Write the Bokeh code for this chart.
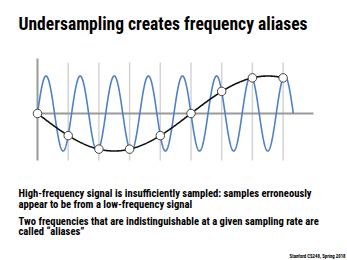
import numpy as np
from bokeh.plotting import figure
from bokeh.models import Range1d, Label
from bokeh.embed import file_html
from bokeh.resources import INLINE

# ---- data ----
sample_times = [0, 1, 2, 3, 4, 5, 6, 7, 8]
sample_values = [0, -0.59, -0.95, -0.95, -0.59, 0, 0.59, 0.95, 0.95]
high_freq = 0.9      # cycles per sample interval (blue signal)
alias_freq = 0.1     # cycles per sample interval (black alias)
high_cycles = 7.5    # blue signal drawn for this many cycles
title_text = "Undersampling creates frequency aliases"
body_lines = [
    "High-frequency signal is insufficiently sampled: samples erroneously",
    "appear to be from a low-frequency signal",
    "Two frequencies that are indistinguishable at a given sampling rate are",
    "called \u201caliases\u201d",
]
footer_text = "Stanford CS248, Spring 2018"

W, H = 347, 260
x0_px, dx_px = 37.0, 30.7
y0_px, amp_px = 113.0, 37.5

p = figure(width=W, height=H, output_backend="svg", toolbar_location=None,
           min_border=0, x_axis_type=None, y_axis_type=None)
p.x_range = Range1d(-x0_px / dx_px, (W - x0_px) / dx_px)
p.y_range = Range1d((y0_px - H) / amp_px, y0_px / amp_px)
p.grid.visible = False
p.outline_line_color = None
p.background_fill_color = "white"
p.border_fill_color = "white"

# grid lines at sample times (except origin)
gt = sample_times[1:]
p.segment(x0=gt, y0=[-1.25] * len(gt), x1=gt, y1=[1.36] * len(gt),
          line_color="#d4d4d4", line_width=1.5)
# axes
p.segment(x0=[0], y0=[-1.25], x1=[0], y1=[1.47], line_color="#9a9a9a", line_width=2)
p.segment(x0=[0], y0=[0], x1=[8.99], y1=[0], line_color="#9a9a9a", line_width=2)

# blue high-frequency signal
t_hi = np.linspace(0, high_cycles / high_freq, 1200)
p.line(t_hi, np.sin(2 * np.pi * high_freq * t_hi), line_color="#4f81c4", line_width=1.6)

# black alias
t_lo = np.linspace(0, sample_times[-1], 400)
p.line(t_lo, -np.sin(2 * np.pi * alias_freq * t_lo), line_color="#111111", line_width=1.6)

# samples
p.scatter(sample_times, sample_values, size=8.5, fill_color="white",
          line_color="#444444", line_width=1)

FONT = "Roboto Condensed"

p.add_layout(Label(x=18, y=H - 23.5, x_units="screen", y_units="screen",
                   text=title_text, text_font=FONT, text_font_style="bold",
                   text_font_size="17.5px", text_color="black",
                   text_baseline="alphabetic"))

for txt, base in zip(body_lines, [193.3, 203.8, 221.0, 231.3]):
    p.add_layout(Label(x=18, y=H - base, x_units="screen", y_units="screen",
                       text=txt, text_font=FONT, text_font_style="bold",
                       text_font_size="10.6px", text_color="black",
                       text_baseline="alphabetic"))

p.add_layout(Label(x=345, y=H - 256, x_units="screen", y_units="screen",
                   text=footer_text, text_font=FONT, text_font_style="bold",
                   text_font_size="4.8px", text_color="black",
                   text_align="right", text_baseline="alphabetic"))

open("out.html", "w").write(file_html(p, INLINE))
